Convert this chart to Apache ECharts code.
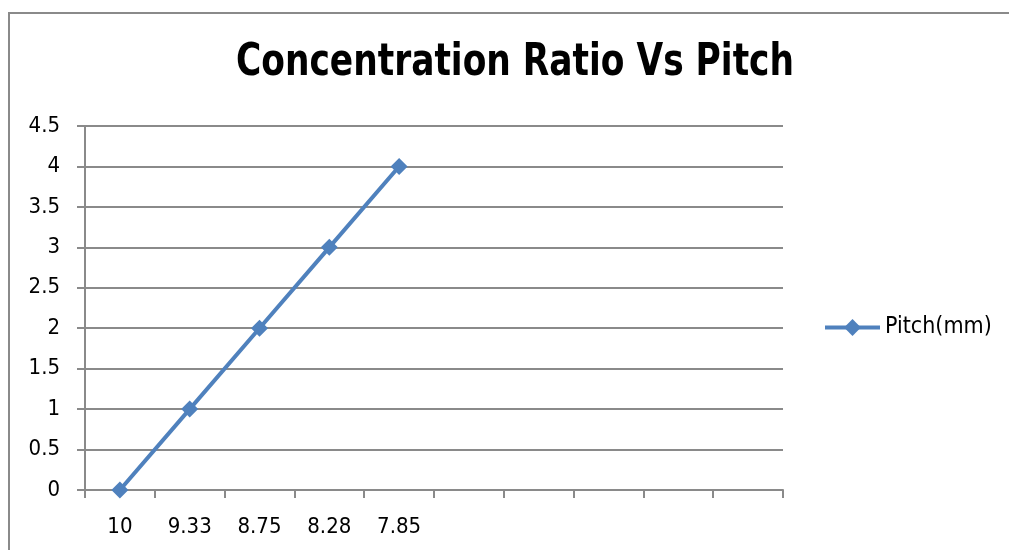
<!DOCTYPE html>
<html>
<head>
<meta charset="utf-8">
<style>
  html, body { margin: 0; padding: 0; background: #fff; }
  #chart { width: 1009px; height: 550px; }
</style>
<script src="https://cdn.jsdelivr.net/npm/echarts@6/dist/echarts.min.js"></script>
</head>
<body>
<div id="chart"></div>
<script>
// Pitch categories (mm); the axis has ten slots, only five carry values
const pitchLabels = ['10', '9.33', '8.75', '8.28', '7.85', '', '', '', '', ''];
// Concentration ratio for each pitch
const concentrationRatio = [0, 1, 2, 3, 4];
const yTicks = { min: 0, max: 4.5, interval: 0.5 };

const FONT = "'Liberation Sans Narrow', 'DejaVu Sans Condensed', 'Liberation Sans', sans-serif";
const GRID_GRAY = '#8a8a8a';
const LINE_BLUE = '#4f81bd';

const chart = echarts.init(document.getElementById('chart'), null, { renderer: 'canvas' });

chart.setOption({
  backgroundColor: '#ffffff',
  animation: false,
  graphic: [
    {
      // outer chart frame
      type: 'rect',
      shape: { x: 9, y: 13, width: 1010, height: 560 },
      style: { fill: 'none', stroke: GRID_GRAY, lineWidth: 2 },
      silent: true
    },
    {
      // condensed bold heading
      type: 'text',
      x: 515,
      y: 64,
      scaleX: 0.87,
      style: {
        text: 'Concentration Ratio Vs Pitch',
        font: "bold 44px 'DejaVu Sans Condensed', 'Liberation Sans', sans-serif",
        fill: '#000',
        align: 'center',
        verticalAlign: 'middle'
      },
      silent: true
    }
  ],
  legend: {
    left: 818,
    top: 311,
    itemWidth: 55,
    itemHeight: 21,
    lineStyle: { width: 4 },
    textStyle: { fontFamily: FONT, fontSize: 23, color: '#000' },
    data: ['Pitch(mm)']
  },
  grid: { left: 85, right: 226, top: 126, bottom: 60, containLabel: false },
  xAxis: {
    type: 'category',
    data: pitchLabels,
    boundaryGap: true,
    axisLine: { lineStyle: { color: GRID_GRAY, width: 2 } },
    axisTick: { show: true, length: 8, inside: false, interval: 0, lineStyle: { color: GRID_GRAY, width: 2 } },
    axisLabel: { interval: 0, margin: 26, fontFamily: FONT, fontSize: 22, color: '#000' },
    splitLine: { show: false }
  },
  yAxis: {
    type: 'value',
    min: yTicks.min,
    max: yTicks.max,
    interval: yTicks.interval,
    axisLine: { show: true, lineStyle: { color: GRID_GRAY, width: 2 } },
    axisTick: { show: true, length: 8, inside: false, lineStyle: { color: GRID_GRAY, width: 2 } },
    axisLabel: { margin: 25, fontFamily: FONT, fontSize: 22, color: '#000' },
    splitLine: { show: true, lineStyle: { color: GRID_GRAY, width: 2 } }
  },
  series: [{
    name: 'Pitch(mm)',
    type: 'line',
    data: concentrationRatio,
    symbol: 'diamond',
    symbolSize: 17,
    lineStyle: { color: LINE_BLUE, width: 4 },
    itemStyle: { color: LINE_BLUE },
    label: { show: false }
  }]
});
</script>
</body>
</html>
